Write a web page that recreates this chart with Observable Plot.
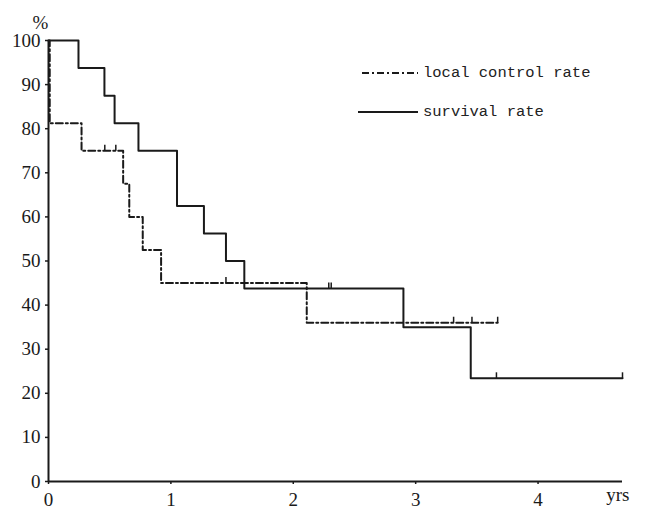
<!DOCTYPE html>
<html>
<head>
<meta charset="utf-8">
<script src="https://cdn.jsdelivr.net/npm/d3@7"></script>
<script src="https://cdn.jsdelivr.net/npm/@observablehq/plot@0.6"></script>
<style>
  html, body { margin: 0; padding: 0; background: #fff; }
  #wrap { position: relative; width: 645px; height: 509px; }
  #legend { position: absolute; left: 0; top: 0; font-family: "Liberation Mono", "Courier New", monospace; font-size: 15.5px; color: #222; }
  .item { position: absolute; white-space: nowrap; display: flex; align-items: center; }
  .item svg { display: block; }
  #wrap svg text { font-family: "Liberation Serif", "Times New Roman", serif; }
</style>
</head>
<body>
<div id="wrap"><div id="legend"></div></div>
<script>
// Kaplan-Meier style step curves (years, %)
const survivalYears = [0, 0.245, 0.457, 0.54, 0.735, 1.05, 1.27, 1.45, 1.6, 2.9, 3.45, 4.69];
const survivalRate  = [100, 93.75, 87.5, 81.25, 75, 62.5, 56.25, 50, 43.75, 35, 23.4, 23.4];
const localYears    = [0, 0.01, 0.27, 0.61, 0.66, 0.77, 0.92, 2.11, 3.67];
const localRate     = [100, 81.25, 75, 67.5, 60, 52.5, 45, 36, 36];
// censored observations
const survivalCensorYears = [2.29, 2.31, 3.66, 4.69];
const survivalCensorRate  = [43.75, 43.75, 23.4, 23.4];
const localCensorYears    = [0.46, 0.55, 1.45, 3.31, 3.46, 3.67];
const localCensorRate     = [75, 75, 45, 36, 36, 36];
const xTicks = [0, 1, 2, 3, 4];
const yTicks = [0, 10, 20, 30, 40, 50, 60, 70, 80, 90, 100];
const seriesNames = ["local control rate", "survival rate"];

const toRows = (xs, ys) => xs.map((x, i) => ({x, y: ys[i]}));
const survival = toRows(survivalYears, survivalRate);
const local = toRows(localYears, localRate);
const survCens = toRows(survivalCensorYears, survivalCensorRate);
const localCens = toRows(localCensorYears, localCensorRate);

const ink = "#1a1a1a";
const dash = "7,3,2,3";
const font = "Liberation Serif";
const fs = 19;
const censorSymbol = { draw(ctx) { ctx.moveTo(0, 0); ctx.lineTo(0, -6); } };

const chart = Plot.plot({
  width: 645,
  height: 509,
  marginLeft: 48,
  marginRight: 23,
  marginTop: 40,
  marginBottom: 28,
  style: { fontFamily: font, fontSize: fs + "px", color: ink, background: "#fff" },
  x: { domain: [0, 4.69] },
  y: { domain: [0, 100] },
  marks: [
    Plot.axisX({ ticks: xTicks, tickSize: 3, tickPadding: 8, tickFormat: d => d, label: null, stroke: ink, strokeWidth: 1.5, fontFamily: font, fontSize: fs, fill: ink }),
    Plot.axisY({ ticks: yTicks, tickSize: 3, tickPadding: 5, tickFormat: d => d, label: null, stroke: ink, strokeWidth: 1.5, fontFamily: font, fontSize: fs, fill: ink }),
    Plot.ruleY([0], { stroke: ink, strokeWidth: 2 }),
    Plot.ruleX([0], { y1: 0, y2: 100, stroke: ink, strokeWidth: 2 }),
    Plot.line(local, { x: "x", y: "y", curve: "step-after", stroke: ink, strokeWidth: 2, strokeDasharray: dash }),
    Plot.line(survival, { x: "x", y: "y", curve: "step-after", stroke: ink, strokeWidth: 2 }),
    Plot.dot(localCens, { x: "x", y: "y", symbol: censorSymbol, stroke: ink, strokeWidth: 1.5, fill: "none", r: 3 }),
    Plot.dot(survCens, { x: "x", y: "y", symbol: censorSymbol, stroke: ink, strokeWidth: 1.5, fill: "none", r: 3 }),
    Plot.text(["%"], { frameAnchor: "top-left", dx: -16, dy: -25, fill: ink, fontFamily: font, fontSize: fs }),
    Plot.text(["yrs"], { frameAnchor: "bottom-right", dx: 7, dy: 19, fill: ink, fontFamily: font, fontSize: fs })
  ]
});
document.getElementById("wrap").prepend(chart);

// legend overlay
const legend = d3.select("#legend");
const items = [
  { name: seriesNames[0], dash: dash, left: 358, top: 63, x1: 4 },
  { name: seriesNames[1], dash: null, left: 358, top: 102, x1: 0 }
];
items.forEach(it => {
  const row = legend.append("div").attr("class", "item").style("left", it.left + "px").style("top", it.top + "px").style("height", "20px");
  const svg = row.append("svg").attr("width", 62).attr("height", 20);
  svg.append("line").attr("x1", it.x1).attr("x2", 60).attr("y1", 10).attr("y2", 10)
    .attr("stroke", ink).attr("stroke-width", 2).attr("stroke-dasharray", it.dash);
  row.append("span").text(it.name).style("margin-left", "3px");
});
</script>
</body>
</html>
